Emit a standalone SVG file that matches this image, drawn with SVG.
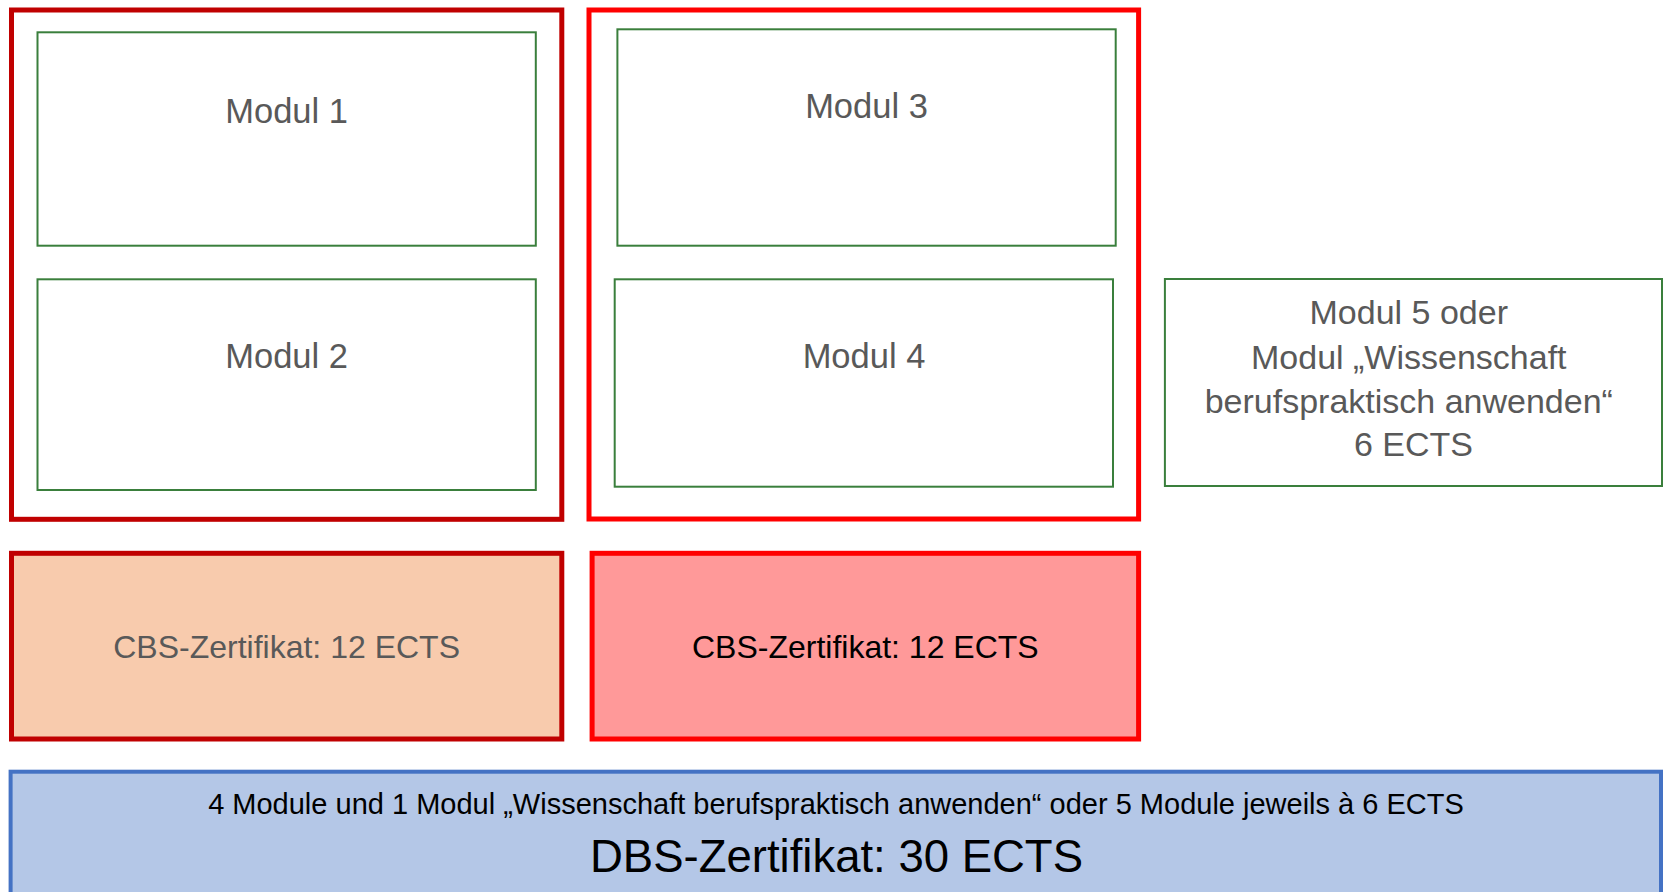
<svg xmlns="http://www.w3.org/2000/svg" width="1665" height="892" viewBox="0 0 1665 892">
<style>
.t{font-family:"Liberation Sans",Arial,sans-serif;text-anchor:middle}
.g{fill:#595959}
.outerDark{fill:none;stroke:#C00000;stroke-width:5}
.outerRed{fill:none;stroke:#FF0000;stroke-width:5}
.mod{fill:#FFFFFF;stroke:#3A7F3C;stroke-width:2}
</style>
<rect width="1665" height="892" fill="#FFFFFF"/>
<g id="connectors"></g>
<g id="group-cbs1-frame"><rect class="outerDark" x="11.5" y="10" width="550.3" height="509.3"/></g>
<g id="group-cbs2-frame"><rect class="outerRed" x="589" y="10" width="549.6" height="509"/></g>
<g id="modul1"><rect class="mod" x="37.5" y="32.3" width="498.3" height="213.4"/><text class="t g" x="286.6" y="122.7" font-size="34.5">Modul 1</text></g>
<g id="modul2"><rect class="mod" x="37.5" y="279.3" width="498.3" height="210.7"/><text class="t g" x="286.6" y="368.3" font-size="34.5">Modul 2</text></g>
<g id="modul3"><rect class="mod" x="617.4" y="29.3" width="498.3" height="216.4"/><text class="t g" x="866.5" y="118.3" font-size="34.5">Modul 3</text></g>
<g id="modul4"><rect class="mod" x="614.7" y="279.3" width="498.3" height="207.4"/><text class="t g" x="864" y="368.3" font-size="34.5">Modul 4</text></g>
<g id="modul5"><rect class="mod" x="1164.9" y="279" width="497.1" height="207"/>
<text class="t g" x="1413.5" font-size="34">
<tspan x="1413.5" y="324">Modul 5 oder</tspan>
<tspan x="1413.5" y="369.3">Modul „Wissenschaft</tspan>
<tspan x="1413.5" y="413.3">berufspraktisch anwenden“</tspan>
<tspan x="1413.5" y="455.7">6 ECTS</tspan>
</text></g>
<g id="cbs1"><rect x="11.5" y="553.3" width="550.3" height="185.7" fill="#F8CBAD" stroke="#C00000" stroke-width="5"/><text class="t g" x="286.6" y="658.3" font-size="32">CBS-Zertifikat: 12 ECTS</text></g>
<g id="cbs2"><rect x="592.1" y="553.3" width="546.5" height="185.7" fill="#FF9999" stroke="#FF0000" stroke-width="5"/><text class="t" x="865.3" y="658.3" font-size="32" fill="#000000">CBS-Zertifikat: 12 ECTS</text></g>
<g id="dbs"><rect x="10.6" y="771.7" width="1650.4" height="140" fill="#B4C7E7" stroke="#4472C4" stroke-width="4"/>
<text class="t" x="836" y="814" font-size="29" fill="#000000">4 Module und 1 Modul „Wissenschaft berufspraktisch anwenden“ oder 5 Module jeweils à 6 ECTS</text>
<text class="t" x="836.5" y="871.7" font-size="45.5" fill="#000000">DBS-Zertifikat: 30 ECTS</text></g>
</svg>
